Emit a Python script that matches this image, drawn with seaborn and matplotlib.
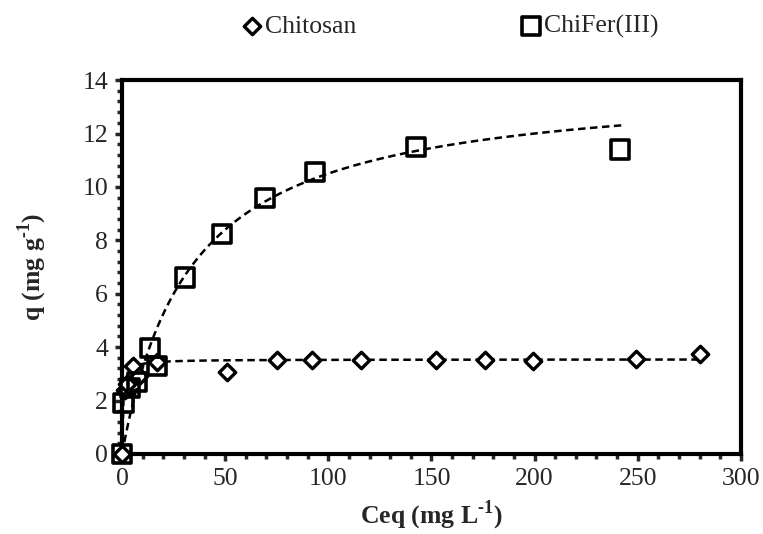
import numpy as np
import pandas as pd
import matplotlib
matplotlib.use("Agg")
import matplotlib.pyplot as plt
import seaborn as sns
from matplotlib.ticker import MultipleLocator

# Data
chitosan_ceq = [0, 1.2, 2.5, 5.5, 8, 17, 51, 75, 92, 116, 152, 176, 199, 249, 280]
chitosan_q = [0, 2.4, 2.6, 3.3, 2.9, 3.45, 3.07, 3.51, 3.51, 3.51, 3.51, 3.51, 3.49, 3.57, 3.76]

chifer_ceq = [0, 0.7, 3.9, 7.1, 13.6, 16.8, 30.5, 48.5, 69.3, 93.6, 142.5, 241.4]
chifer_q = [0, 1.9, 2.46, 2.7, 3.96, 3.3, 6.6, 8.24, 9.59, 10.56, 11.5, 11.4]

# Langmuir fit parameters (qmax, K, end of curve)
chitosan_fit = (3.54, 2.0, 280)
chifer_fit = (14.0, 0.03, 242)

legend_labels = ["Chitosan", "ChiFer(III)"]

sns.set_style("ticks")
plt.rcParams['font.family'] = ['Liberation Serif', 'DejaVu Serif']
plt.rcParams['mathtext.fontset'] = 'custom'
plt.rcParams['mathtext.rm'] = 'Liberation Serif:bold'
plt.rcParams['mathtext.bf'] = 'Liberation Serif:bold'


def langmuir(params):
    qm, k, cmax = params
    c = np.linspace(0, cmax, 400)
    return pd.DataFrame({"Ceq": c, "q": qm * k * c / (1 + k * c)})


fig = plt.figure(figsize=(7.63, 5.34), dpi=100)
ax = fig.add_axes([0.160, 0.150, 0.811, 0.700])

fit1 = langmuir(chitosan_fit)
fit2 = langmuir(chifer_fit)
for fit in (fit1, fit2):
    sns.lineplot(data=fit, x="Ceq", y="q", ax=ax, color="black", lw=1.8,
                 linestyle=(0, (3.0, 1.8)), zorder=2)

df1 = pd.DataFrame({"Ceq": chitosan_ceq, "q": chitosan_q})
df2 = pd.DataFrame({"Ceq": chifer_ceq, "q": chifer_q})
sns.scatterplot(data=df1, x="Ceq", y="q", ax=ax, marker="D", s=70,
                facecolor="white", edgecolor="black", linewidth=2.4,
                label=legend_labels[0], zorder=3, clip_on=False)
sns.scatterplot(data=df2, x="Ceq", y="q", ax=ax, marker="s", s=175,
                facecolor="none", edgecolor="black", linewidth=2.6,
                label=legend_labels[1], zorder=4, clip_on=False)

ax.set_xlim(0, 300)
ax.set_ylim(0, 14)
ax.xaxis.set_major_locator(MultipleLocator(50))
ax.xaxis.set_minor_locator(MultipleLocator(10))
ax.yaxis.set_major_locator(MultipleLocator(2))
ax.yaxis.set_minor_locator(MultipleLocator(0.4))
ax.tick_params(which="major", direction="out", length=5, width=2.5, labelsize=18.5, pad=5)
ax.tick_params(which="minor", direction="out", length=3.5, width=2.5)
for sp in ax.spines.values():
    sp.set_linewidth(3)
    sp.set_color("black")

ax.set_xlabel(r"Ceq (mg L$^{\text{-1}}$)", fontsize=18.5, fontweight="bold", labelpad=6)
ax.set_ylabel(r"q (mg g$^{\text{-1}}$)", fontsize=18.5, fontweight="bold", labelpad=24)

ax.legend_.remove()
handles, labels = ax.get_legend_handles_labels()
fig.legend(handles, labels, loc="center", bbox_to_anchor=(0.588, 0.95), ncol=2,
           frameon=False, fontsize=18.5, handletextpad=0.0, handlelength=1.0,
           columnspacing=6.3, markerscale=1.0)

fig.savefig("out.png", dpi=100)
